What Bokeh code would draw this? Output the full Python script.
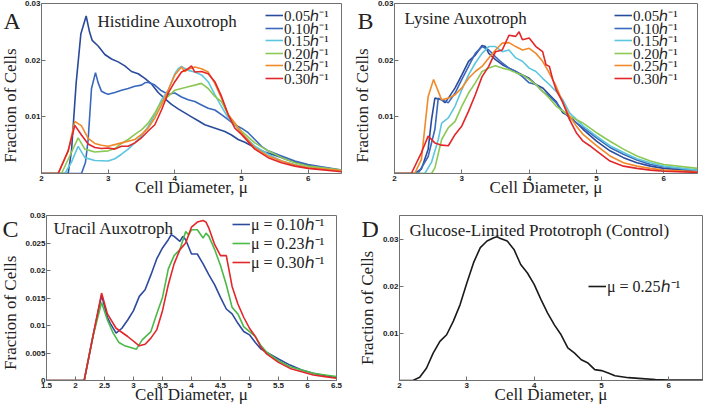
from math import pi
from bokeh.plotting import figure
from bokeh.layouts import column, row
from bokeh.models import Label, Legend, LegendItem, FixedTicker, CustomJSTickFormatter, Range1d
from bokeh.embed import file_html
from bokeh.resources import INLINE

SERIF = "Liberation Serif"
SANS = "Liberation Sans"
FRAME = "#707070"
TXT = "#222222"

# ---------------- data ----------------
# Panel A : Histidine auxotroph
a_labels = ["0.05ℎ⁻¹", "0.10ℎ⁻¹", "0.15ℎ⁻¹", "0.20ℎ⁻¹", "0.25ℎ⁻¹", "0.30ℎ⁻¹"]
a_colors = ["#2a4a9a", "#3a68bc", "#5cc6de", "#8cc855", "#f08a2a", "#e2262a"]
a_x_005 = [2.0, 2.40, 2.45, 2.52, 2.59, 2.67, 2.72, 2.76, 2.85, 2.95, 3.05, 3.15, 3.25, 3.35, 3.45, 3.55, 3.65, 3.75, 3.85, 3.95, 4.05, 4.15, 4.25, 4.35, 4.45, 4.55, 4.65, 4.75, 4.85, 4.95, 5.05, 5.15, 5.25, 5.35, 5.5, 5.7, 5.9, 6.1, 6.3, 6.5]
a_y_005 = [0, 0, 0.004, 0.016, 0.0246, 0.0278, 0.025, 0.0235, 0.0225, 0.021, 0.0202, 0.0197, 0.019, 0.018, 0.0176, 0.0168, 0.0158, 0.0143, 0.0132, 0.0122, 0.0114, 0.0107, 0.0100, 0.0093, 0.0086, 0.0082, 0.0078, 0.0074, 0.0068, 0.006, 0.0055, 0.0049, 0.0043, 0.0038, 0.0032, 0.0024, 0.0017, 0.0012, 0.0009, 0.0005]
a_x_010 = [2.0, 2.6, 2.66, 2.7, 2.75, 2.81, 2.85, 2.9, 2.95, 3.0, 3.1, 3.2, 3.3, 3.4, 3.5, 3.55, 3.6, 3.7, 3.8, 3.9, 4.0, 4.1, 4.2, 4.3, 4.4, 4.5, 4.6, 4.7, 4.8, 4.9, 5.0, 5.1, 5.2, 5.3, 5.4, 5.6, 5.8, 6.0, 6.2, 6.5]
a_y_010 = [0, 0, 0.002, 0.006, 0.015, 0.0178, 0.016, 0.0145, 0.0142, 0.014, 0.0143, 0.0147, 0.015, 0.0154, 0.0156, 0.016, 0.0161, 0.0156, 0.0146, 0.014, 0.0142, 0.0135, 0.013, 0.0127, 0.0121, 0.0115, 0.0112, 0.0104, 0.0095, 0.0086, 0.008, 0.0072, 0.006, 0.0048, 0.004, 0.0031, 0.0022, 0.0016, 0.0012, 0.0006]
a_x_015 = [2.0, 2.35, 2.45, 2.55, 2.6, 2.65, 2.8, 3.0, 3.1, 3.2, 3.3, 3.4, 3.5, 3.6, 3.7, 3.8, 3.9, 4.0, 4.05, 4.1, 4.2, 4.3, 4.4, 4.5, 4.6, 4.7, 4.8, 4.9, 5.0, 5.2, 5.4, 5.6, 5.8, 6.0, 6.5]
a_y_015 = [0, 0, 0.002, 0.0048, 0.0038, 0.0028, 0.0023, 0.0022, 0.0026, 0.0034, 0.0043, 0.0054, 0.0066, 0.0083, 0.0104, 0.013, 0.0147, 0.0176, 0.0185, 0.0189, 0.0182, 0.0179, 0.0174, 0.0162, 0.0139, 0.0118, 0.0098, 0.0086, 0.0072, 0.0048, 0.0034, 0.0022, 0.0016, 0.001, 0.0005]
a_x_020 = [2.0, 2.3, 2.42, 2.55, 2.65, 2.8, 3.0, 3.1, 3.2, 3.3, 3.4, 3.5, 3.6, 3.7, 3.8, 3.9, 4.0, 4.1, 4.2, 4.3, 4.4, 4.5, 4.6, 4.7, 4.8, 4.9, 5.0, 5.2, 5.4, 5.6, 5.8, 6.0, 6.5]
a_y_020 = [0, 0, 0.003, 0.0063, 0.0043, 0.0038, 0.004, 0.0044, 0.0053, 0.006, 0.0069, 0.0077, 0.0089, 0.0107, 0.0127, 0.0136, 0.0147, 0.015, 0.0153, 0.0156, 0.0159, 0.015, 0.0136, 0.0127, 0.0104, 0.0086, 0.0075, 0.0054, 0.004, 0.0028, 0.0019, 0.0013, 0.0006]
a_x_025 = [2.0, 2.25, 2.4, 2.5, 2.6, 2.7, 2.8, 2.9, 3.0, 3.1, 3.2, 3.3, 3.4, 3.5, 3.6, 3.7, 3.8, 3.9, 4.0, 4.1, 4.15, 4.2, 4.3, 4.4, 4.5, 4.6, 4.7, 4.8, 4.9, 5.0, 5.2, 5.4, 5.6, 5.8, 6.0, 6.5]
a_y_025 = [0, 0, 0.004, 0.0092, 0.0084, 0.0062, 0.0053, 0.005, 0.0048, 0.0051, 0.0054, 0.0057, 0.006, 0.0069, 0.008, 0.0098, 0.0121, 0.0147, 0.0174, 0.0188, 0.018, 0.0184, 0.0188, 0.0185, 0.0179, 0.0159, 0.0133, 0.0104, 0.0089, 0.0072, 0.0045, 0.0031, 0.0022, 0.0015, 0.001, 0.0005]
a_x_030 = [2.0, 2.25, 2.4, 2.5, 2.6, 2.7, 2.8, 2.9, 3.0, 3.1, 3.2, 3.3, 3.4, 3.5, 3.6, 3.7, 3.8, 3.9, 4.0, 4.1, 4.2, 4.25, 4.3, 4.4, 4.5, 4.6, 4.7, 4.8, 4.9, 5.0, 5.2, 5.4, 5.6, 5.8, 6.0, 6.5]
a_y_030 = [0, 0, 0.004, 0.0085, 0.0068, 0.0052, 0.0046, 0.0044, 0.0045, 0.0043, 0.0048, 0.0048, 0.0054, 0.0063, 0.0075, 0.0086, 0.0112, 0.0142, 0.0162, 0.0179, 0.0185, 0.019, 0.0179, 0.018, 0.0176, 0.0162, 0.0136, 0.0104, 0.008, 0.0069, 0.0043, 0.0028, 0.0019, 0.0013, 0.0009, 0.0003]

# Panel B : Lysine auxotroph
b_x_005 = [2.0, 2.3, 2.4, 2.5, 2.55, 2.6, 2.7, 2.75, 2.8, 2.9, 3.0, 3.1, 3.2, 3.3, 3.35, 3.4, 3.5, 3.6, 3.7, 3.8, 3.9, 4.0, 4.1, 4.2, 4.3, 4.4, 4.5, 4.6, 4.8, 5.0, 5.2, 5.4, 5.6, 5.8, 6.0, 6.5]
b_y_005 = [0, 0, 0.0008, 0.0043, 0.0095, 0.0133, 0.013, 0.0125, 0.0133, 0.0151, 0.0174, 0.0198, 0.0209, 0.0226, 0.0224, 0.0212, 0.0201, 0.0192, 0.0186, 0.018, 0.0174, 0.0168, 0.0157, 0.0151, 0.0139, 0.0127, 0.0107, 0.0101, 0.0078, 0.0057, 0.004, 0.0028, 0.0019, 0.0013, 0.0009, 0.0004]
b_x_010 = [2.0, 2.35, 2.5, 2.6, 2.65, 2.7, 2.8, 2.9, 3.0, 3.1, 3.2, 3.3, 3.4, 3.5, 3.6, 3.7, 3.8, 3.9, 4.0, 4.1, 4.2, 4.3, 4.4, 4.5, 4.6, 4.8, 5.0, 5.2, 5.4, 5.6, 5.8, 6.0, 6.5]
b_y_010 = [0, 0, 0.003, 0.0078, 0.0133, 0.013, 0.0125, 0.0142, 0.0166, 0.0189, 0.0212, 0.0224, 0.0218, 0.0206, 0.0195, 0.0186, 0.018, 0.0171, 0.016, 0.0157, 0.0145, 0.0136, 0.0125, 0.011, 0.0098, 0.0081, 0.0063, 0.0046, 0.0034, 0.0024, 0.0016, 0.0012, 0.0005]
b_x_015 = [2.0, 2.45, 2.55, 2.65, 2.7, 2.8, 2.9, 3.0, 3.1, 3.2, 3.3, 3.4, 3.5, 3.6, 3.7, 3.8, 3.9, 4.0, 4.1, 4.2, 4.3, 4.4, 4.5, 4.6, 4.8, 5.0, 5.2, 5.4, 5.6, 5.8, 6.0, 6.5]
b_y_015 = [0, 0, 0.002, 0.006, 0.0089, 0.0098, 0.0119, 0.0148, 0.0174, 0.0195, 0.0212, 0.0224, 0.0224, 0.0215, 0.0218, 0.0204, 0.0198, 0.0186, 0.018, 0.0168, 0.0157, 0.0145, 0.013, 0.0107, 0.0084, 0.0066, 0.0049, 0.0037, 0.0026, 0.0019, 0.0013, 0.0006]
b_x_020 = [2.0, 2.55, 2.6, 2.7, 2.8, 2.9, 3.0, 3.1, 3.2, 3.3, 3.4, 3.5, 3.6, 3.7, 3.8, 3.9, 4.0, 4.1, 4.2, 4.3, 4.4, 4.5, 4.6, 4.8, 5.0, 5.2, 5.4, 5.6, 5.8, 6.0, 6.5]
b_y_020 = [0, 0, 0.001, 0.006, 0.0081, 0.0092, 0.0119, 0.0142, 0.016, 0.018, 0.0186, 0.019, 0.0186, 0.0183, 0.0178, 0.0174, 0.0166, 0.0157, 0.0145, 0.0133, 0.0119, 0.011, 0.0101, 0.0089, 0.0072, 0.0057, 0.0043, 0.0031, 0.0022, 0.0016, 0.0009]
b_x_025 = [2.0, 2.3, 2.4, 2.5, 2.58, 2.65, 2.7, 2.8, 2.9, 3.0, 3.1, 3.2, 3.3, 3.4, 3.5, 3.6, 3.7, 3.8, 3.9, 4.0, 4.1, 4.2, 4.3, 4.4, 4.5, 4.6, 4.7, 4.8, 5.0, 5.2, 5.4, 5.6, 5.8, 6.0, 6.5]
b_y_025 = [0, 0, 0.0025, 0.0136, 0.0166, 0.0145, 0.013, 0.0133, 0.0139, 0.0151, 0.0168, 0.018, 0.0189, 0.0204, 0.0218, 0.023, 0.0231, 0.0224, 0.0218, 0.0221, 0.0212, 0.0198, 0.0177, 0.0154, 0.0125, 0.0101, 0.0084, 0.0069, 0.0049, 0.0031, 0.0019, 0.0013, 0.0009, 0.0006, 0.0003]
b_x_030 = [2.0, 2.25, 2.4, 2.5, 2.6, 2.7, 2.8, 2.9, 3.0, 3.1, 3.2, 3.3, 3.4, 3.5, 3.6, 3.7, 3.8, 3.85, 3.9, 4.0, 4.1, 4.2, 4.25, 4.3, 4.35, 4.4, 4.5, 4.6, 4.7, 4.8, 4.9, 5.0, 5.2, 5.4, 5.6, 5.8, 6.0, 6.5]
b_y_030 = [0, 0, 0.0037, 0.0066, 0.0054, 0.005, 0.0049, 0.0069, 0.0084, 0.011, 0.0139, 0.0171, 0.0189, 0.0215, 0.0218, 0.0244, 0.0242, 0.025, 0.0236, 0.0239, 0.0224, 0.0215, 0.0192, 0.0189, 0.0166, 0.0148, 0.0125, 0.0095, 0.0072, 0.0057, 0.0049, 0.004, 0.0022, 0.0013, 0.0009, 0.0006, 0.0004, 0.0002]

# Panel C : Uracil auxotroph
c_labels = ["μ = 0.10ℎ⁻¹", "μ = 0.23ℎ⁻¹", "μ = 0.30ℎ⁻¹"]
c_colors = ["#2e4a9e", "#4cb848", "#e2262a"]
c_x_010 = [1.5, 2.15, 2.3, 2.45, 2.55, 2.6, 2.7, 2.8, 2.9, 3.0, 3.1, 3.2, 3.3, 3.4, 3.5, 3.6, 3.65, 3.7, 3.8, 3.85, 3.9, 4.0, 4.1, 4.2, 4.3, 4.4, 4.5, 4.6, 4.7, 4.8, 4.9, 5.0, 5.1, 5.2, 5.3, 5.5, 5.7, 5.9, 6.1, 6.3, 6.5]
c_y_010 = [0, 0, 0.008, 0.0155, 0.0115, 0.0104, 0.0086, 0.0095, 0.011, 0.0127, 0.0153, 0.0165, 0.0192, 0.0221, 0.0241, 0.0256, 0.0265, 0.0262, 0.0253, 0.0262, 0.0256, 0.023, 0.023, 0.0212, 0.0192, 0.0174, 0.0151, 0.013, 0.0121, 0.0104, 0.0089, 0.0083, 0.0069, 0.0057, 0.0051, 0.0039, 0.0028, 0.0019, 0.0013, 0.0009, 0.0005]
c_x_023 = [1.5, 2.15, 2.3, 2.45, 2.55, 2.65, 2.75, 2.85, 2.95, 3.05, 3.15, 3.3, 3.4, 3.5, 3.6, 3.7, 3.8, 3.9, 3.95, 4.0, 4.1, 4.2, 4.25, 4.3, 4.4, 4.5, 4.6, 4.7, 4.8, 4.9, 5.0, 5.1, 5.2, 5.3, 5.5, 5.7, 5.9, 6.1, 6.3, 6.5]
c_y_023 = [0, 0, 0.008, 0.0142, 0.011, 0.0086, 0.0069, 0.0063, 0.006, 0.0057, 0.0074, 0.0089, 0.0121, 0.0151, 0.0203, 0.0227, 0.0238, 0.0271, 0.0265, 0.0274, 0.0274, 0.0259, 0.0268, 0.0262, 0.0238, 0.0209, 0.0174, 0.0133, 0.0121, 0.0098, 0.0089, 0.008, 0.0063, 0.0051, 0.0036, 0.0025, 0.0019, 0.0013, 0.001, 0.0007]
c_x_030 = [1.5, 2.15, 2.3, 2.45, 2.55, 2.7, 2.9, 3.1, 3.2, 3.3, 3.4, 3.5, 3.6, 3.7, 3.8, 3.9, 4.0, 4.1, 4.2, 4.25, 4.3, 4.4, 4.5, 4.6, 4.7, 4.8, 4.9, 5.0, 5.1, 5.2, 5.3, 5.5, 5.7, 5.9, 6.1, 6.3, 6.5]
c_y_030 = [0, 0, 0.008, 0.0159, 0.0121, 0.0095, 0.008, 0.0063, 0.0066, 0.0077, 0.0092, 0.0127, 0.0174, 0.0212, 0.0238, 0.025, 0.0279, 0.0288, 0.0291, 0.0288, 0.0277, 0.0247, 0.0227, 0.0227, 0.0171, 0.0139, 0.0115, 0.0095, 0.008, 0.006, 0.0048, 0.0033, 0.0022, 0.0016, 0.001, 0.0007, 0.0004]

# Panel D : Glucose-limited prototroph (control)
d_label = "μ = 0.25ℎ⁻¹"
d_x = [2.0, 2.2, 2.3, 2.4, 2.5, 2.6, 2.7, 2.8, 2.9, 3.0, 3.1, 3.2, 3.3, 3.4, 3.45, 3.5, 3.6, 3.7, 3.8, 3.9, 4.0, 4.1, 4.2, 4.3, 4.4, 4.5, 4.6, 4.7, 4.8, 4.9, 5.0, 5.1, 5.2, 5.4, 5.6, 5.8, 6.0, 6.5]
d_y = [0, 0, 0.0007, 0.0026, 0.0058, 0.0083, 0.0097, 0.0126, 0.0161, 0.0207, 0.025, 0.0282, 0.0296, 0.0303, 0.0305, 0.0301, 0.0296, 0.0278, 0.0246, 0.0228, 0.0204, 0.0172, 0.0143, 0.0118, 0.0097, 0.0069, 0.0058, 0.0044, 0.0037, 0.0023, 0.0021, 0.0016, 0.001, 0.0006, 0.0004, 0.0002, 0.0001, 0.0001]

x_ticks_abd = [2, 3, 4, 5, 6]
y_ticks_abd = [0.01, 0.02, 0.03]
x_ticks_c = [1.5, 2, 2.5, 3, 3.5, 4, 4.5, 5, 5.5, 6, 6.5]
y_ticks_c = [0, 0.005, 0.01, 0.015, 0.02, 0.025, 0.03]

x_label = "Cell Diameter, μ"
y_label = "Fraction of Cells"

fmt = CustomJSTickFormatter(code="return tick.toString();")


def style_axis(ax, ticks, label):
    ax.ticker = FixedTicker(ticks=ticks)
    ax.formatter = fmt
    ax.major_tick_in = 4
    ax.major_tick_out = 0
    ax.minor_tick_in = 0
    ax.minor_tick_out = 0
    ax.axis_line_color = FRAME
    ax.major_tick_line_color = FRAME
    ax.major_label_text_font = SANS
    ax.major_label_text_font_style = "bold"
    ax.major_label_text_font_size = "8px"
    ax.major_label_text_color = "#222222"
    ax.major_label_standoff = 1
    ax.axis_label = label
    if label:
        ax.major_label_standoff = 2
        ax.axis_label_text_font = SERIF
        ax.axis_label_text_font_size = "17px"
        ax.axis_label_text_font_style = "normal"
        ax.axis_label_text_color = TXT
        ax.axis_label_standoff = -6


def make_fig(fw, fh, xr, yr, xt, yt, borders):
    l, r, t, b = borders
    p = figure(frame_width=fw, frame_height=fh, x_range=Range1d(*xr), y_range=Range1d(*yr),
               output_backend="svg", toolbar_location=None,
               min_border_left=l, min_border_right=r, min_border_top=t, min_border_bottom=b)
    p.grid.visible = False
    p.outline_line_color = FRAME
    style_axis(p.xaxis[0], xt, x_label)
    style_axis(p.yaxis[0], yt, None)
    return p


def make_gutter(p, w, h, letter, lx, ldy, ylx, yfrac):
    # narrow text column (frame aligned with its panel) holding the letter and y-axis title
    g = figure(width=w, height=h, x_range=Range1d(0, w), y_range=p.y_range,
               x_axis_type=None, y_axis_type=None, output_backend="svg",
               toolbar_location=None, min_border=0)
    g.outline_line_color = None
    g.grid.visible = False
    top = p.y_range.end
    g.add_layout(Label(x=lx, y=top, y_offset=-ldy, text=letter, text_font=SERIF,
                       text_font_size="24px", text_color=TXT, text_baseline="top",
                       text_align="left"))
    g.add_layout(Label(x=ylx, y=top * yfrac, text=y_label, text_font=SERIF, text_font_size="17px",
                       text_color=TXT, text_baseline="middle", text_align="center", angle=pi / 2))
    return g


def add_text(p, text, dx, dy, size):
    p.add_layout(Label(x=p.x_range.start, y=p.y_range.end, x_offset=dx, y_offset=-dy,
                       text=text, text_font=SERIF, text_font_size=size, text_color=TXT,
                       text_baseline="top", text_align="left"))


def add_legend(p, renderers, labels, fw, fh, from_right, first, step, size):
    # one single-entry legend per series, stacked at a fixed pixel pitch
    for i, (r, lab) in enumerate(zip(renderers, labels)):
        cy = first + step * i
        lg = Legend(items=[LegendItem(label=lab, renderers=[r])],
                    location=(fw - from_right, fh - cy - 10),
                    label_text_font=SERIF, label_text_font_size=size, label_text_color=TXT,
                    glyph_width=18, glyph_height=20, label_height=20,
                    label_standoff=1, spacing=0, padding=0, margin=0,
                    background_fill_alpha=0, border_line_alpha=0)
        p.add_layout(lg)


FH1, FH2 = 170, 165
# ---------------- A ----------------
FWA = 300
pA = make_fig(FWA, FH1, (2, 6.5), (0, 0.03), x_ticks_abd, y_ticks_abd, (21, 7, 3, 34))
gA = make_gutter(pA, 20, 207, "A", 3, 4, 10, 0.40)
a_series = [(a_x_005, a_y_005), (a_x_010, a_y_010), (a_x_015, a_y_015),
            (a_x_020, a_y_020), (a_x_025, a_y_025), (a_x_030, a_y_030)]
rA = [pA.line(xs, ys, line_color=c, line_width=1.6) for (xs, ys), c in zip(a_series, a_colors)]
add_legend(pA, rA, a_labels, FWA, FH1, 76, 12, 12.6, "15px")
add_text(pA, "Histidine Auxotroph", 56, 8, "17px")

# ---------------- B ----------------
FWB = 303
pB = make_fig(FWB, FH1, (2, 6.5), (0, 0.03), x_ticks_abd, y_ticks_abd, (21, 5, 3, 34))
gB = make_gutter(pB, 25, 207, "B", 9, 4, 14, 0.40)
b_series = [(b_x_005, b_y_005), (b_x_010, b_y_010), (b_x_015, b_y_015),
            (b_x_020, b_y_020), (b_x_025, b_y_025), (b_x_030, b_y_030)]
rB = [pB.line(xs, ys, line_color=c, line_width=1.6) for (xs, ys), c in zip(b_series, a_colors)]
add_legend(pB, rB, a_labels, FWB, FH1, 83, 12, 12.6, "15px")
add_text(pB, "Lysine Auxotroph", 10, 5, "17px")

# ---------------- C ----------------
FWC = 290
pC = make_fig(FWC, FH2, (1.5, 6.5), (0, 0.03), x_ticks_c, y_ticks_c, (26, 11, 8, 34))
gC = make_gutter(pC, 20, 207, "C", 2, 0, 10, 0.41)
c_series = [(c_x_010, c_y_010), (c_x_023, c_y_023), (c_x_030, c_y_030)]
rC = [pC.line(xs, ys, line_color=c, line_width=1.6) for (xs, ys), c in zip(c_series, c_colors)]
add_legend(pC, rC, c_labels, FWC, FH2, 104, 10, 19, "16px")
add_text(pC, "Uracil Auxotroph", 7, 3, "17px")

# ---------------- D ----------------
FWD = 303
pD = make_fig(FWD, FH2, (2, 6.5), (0, 0.035), x_ticks_abd, y_ticks_abd, (21, 1, 8, 34))
gD = make_gutter(pD, 31, 207, "D", 14, 0, 20, 0.44)
rD = pD.line(d_x, d_y, line_color="#1a1a1a", line_width=1.6)
add_legend(pD, [rD], [d_label], FWD, FH2, 114, 72, 0, "16px")
add_text(pD, "Glucose-Limited Prototroph  (Control)", 10, 5, "17px")

layout = column(row(gA, pA, gB, pB), row(gC, pC, gD, pD))

with open("out.html", "w") as f:
    f.write(file_html(layout, INLINE))
